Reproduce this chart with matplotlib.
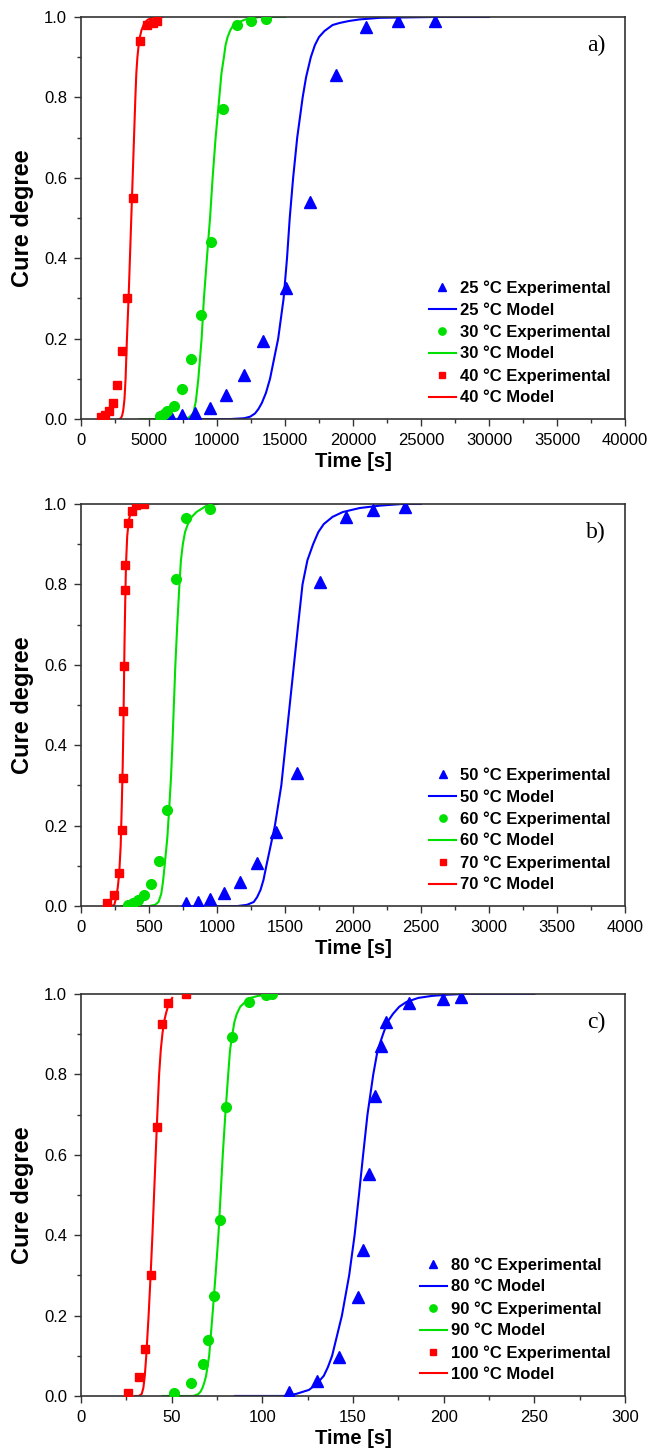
import matplotlib
matplotlib.use("Agg")
import matplotlib.pyplot as plt
from matplotlib.ticker import MultipleLocator

plt.rcParams['font.family'] = ['Liberation Sans', 'DejaVu Sans']

BLUE = '#0000ff'
GREEN = '#00e000'
RED = '#ff0000'

# ---- panel a) : 25, 30, 40 C ----
a25_x = [6610, 7460, 8390, 9480, 10670, 11980, 13420, 15040, 16820, 18780, 20970, 23310, 26020]
a25_y = [0.006, 0.01, 0.015, 0.027, 0.06, 0.11, 0.195, 0.325, 0.54, 0.855, 0.975, 0.99, 0.99]
a30_x = [5830, 6100, 6360, 6870, 7460, 8080, 8800, 9580, 10450, 11450, 12480, 13630]
a30_y = [0.008, 0.012, 0.02, 0.033, 0.075, 0.15, 0.26, 0.44, 0.77, 0.98, 0.99, 0.995]
a40_x = [1450, 1750, 2050, 2350, 2650, 3050, 3400, 3850, 4350, 4850, 5300, 5600]
a40_y = [0.005, 0.01, 0.02, 0.04, 0.085, 0.17, 0.30, 0.55, 0.94, 0.98, 0.985, 0.99]

a25m_x = [7000, 11000, 12000, 12450, 12800, 13050, 13300, 13600, 13900, 14500, 14900, 15150,
          15350, 15600, 15900, 16300, 16550, 16900, 17200, 17500, 17900, 18500, 19000,
          19700, 20500, 22000, 26000, 30000]
a25m_y = [0, 0, 0.002, 0.006, 0.014, 0.025, 0.04, 0.065, 0.10, 0.20, 0.30, 0.40,
          0.50, 0.60, 0.70, 0.80, 0.85, 0.90, 0.93, 0.95, 0.965, 0.98, 0.985,
          0.99, 0.994, 0.998, 1.0, 1.0]
a30m_x = [4350, 6500, 7500, 7900, 8260, 8450, 8630, 8870, 9040, 9260, 9490, 9680, 9900,
          10170, 10330, 10510, 10630, 10780, 10980, 11200, 11500, 11810, 12100, 12500,
          13160, 15000]
a30m_y = [0, 0, 0.001, 0.003, 0.014, 0.045, 0.10, 0.20, 0.30, 0.40, 0.50, 0.60, 0.70,
          0.80, 0.86, 0.90, 0.93, 0.95, 0.967, 0.98, 0.986, 0.99, 0.994, 0.997,
          1.0, 1.0]
a40m_x = [2800, 2880, 2950, 3030, 3100, 3150, 3200, 3280, 3380, 3500, 3600, 3700, 3800,
          3900, 4000, 4070, 4150, 4240, 4330, 4450, 4600, 4750, 4900, 5200, 5560, 6000]
a40m_y = [0, 0.001, 0.003, 0.009, 0.02, 0.034, 0.05, 0.10, 0.20, 0.30, 0.40, 0.50, 0.60,
          0.70, 0.80, 0.86, 0.90, 0.93, 0.95, 0.967, 0.98, 0.988, 0.993, 0.998, 1.0, 1.0]

# ---- panel b) : 50, 60, 70 C ----
b50_x = [774, 861, 952, 1051, 1167, 1292, 1432, 1585, 1757, 1947, 2150, 2384]
b50_y = [0.007, 0.011, 0.017, 0.032, 0.06, 0.106, 0.185, 0.331, 0.805, 0.967, 0.985, 0.992]
b60_x = [343, 381, 418, 462, 512, 571, 630, 699, 774, 949]
b60_y = [0.003, 0.007, 0.015, 0.027, 0.056, 0.111, 0.24, 0.813, 0.966, 0.988]
b70_x = [193, 240, 281, 303, 306, 312, 315, 324, 324, 343, 374, 406, 465]
b70_y = [0.007, 0.027, 0.081, 0.19, 0.318, 0.485, 0.597, 0.785, 0.848, 0.952, 0.982, 0.997, 1.0]

b50m_x = [750, 1150, 1220, 1270, 1295, 1320, 1342, 1363, 1426, 1473, 1504, 1535, 1566,
          1597, 1629, 1665, 1707, 1745, 1785, 1850, 1925, 2050, 2200, 2362, 2500]
b50m_y = [0, 0, 0.003, 0.01, 0.022, 0.04, 0.065, 0.1, 0.2, 0.3, 0.4, 0.5, 0.6,
          0.7, 0.8, 0.86, 0.9, 0.93, 0.95, 0.968, 0.98, 0.99, 0.996, 1.0, 1.0]
b60m_x = [300, 500, 545, 570, 590, 603, 615, 635, 650, 662, 672, 683, 694,
          708, 724, 735, 749, 765, 786, 815, 849, 920, 989, 1005]
b60m_y = [0, 0, 0.003, 0.01, 0.03, 0.06, 0.1, 0.17, 0.25, 0.32, 0.4, 0.5, 0.6,
          0.7, 0.8, 0.86, 0.9, 0.93, 0.95, 0.968, 0.98, 0.995, 1.0, 1.0]
b70m_x = [225, 245, 258, 270, 281, 292, 300, 307, 312, 316, 320, 325,
          331, 340, 352, 370, 395, 410, 430, 490]
b70m_y = [0, 0.003, 0.02, 0.045, 0.08, 0.15, 0.25, 0.35, 0.45, 0.55, 0.65, 0.75,
          0.85, 0.92, 0.96, 0.985, 0.995, 0.998, 1.0, 1.0]

# ---- panel c) : 80, 90, 100 C ----
c80_x = [114.9, 130.4, 142.5, 152.6, 155.4, 158.7, 161.9, 165.2, 168.3, 180.7, 199.6, 209.5]
c80_y = [0.011, 0.036, 0.098, 0.245, 0.363, 0.553, 0.746, 0.87, 0.93, 0.977, 0.988, 0.992]
c90_x = [51.3, 60.8, 67.2, 70.2, 73.5, 76.5, 80.0, 83.1, 92.7, 102.3, 105.1]
c90_y = [0.008, 0.032, 0.08, 0.139, 0.249, 0.438, 0.719, 0.893, 0.98, 0.998, 1.0]
c100_x = [25.7, 32.1, 35.3, 38.6, 41.9, 44.9, 48.2, 57.8]
c100_y = [0.008, 0.048, 0.116, 0.301, 0.668, 0.925, 0.978, 1.0]

c80m_x = [85, 112, 118.6, 125.7, 130.0, 133.9, 136.2, 138.5, 143.9, 147.9, 150.9, 153.3,
          155.6, 158.0, 161.2, 163.6, 166.6, 169.0, 172.0, 175.5, 179.5, 186.0, 193.5,
          202.0, 212.3, 250]
c80m_y = [0, 0, 0.005, 0.015, 0.03, 0.05, 0.072, 0.1, 0.2, 0.3, 0.4, 0.5,
          0.6, 0.7, 0.8, 0.86, 0.9, 0.93, 0.95, 0.968, 0.98, 0.99, 0.995,
          0.998, 1.0, 1.0]
c90m_x = [45, 62, 64.8, 66.0, 67.0, 68.0, 69.0, 70.7, 72.5, 74.2, 75.8, 77.0, 78.2, 79.6,
          81.2, 82.2, 83.5, 84.6, 85.9, 87.8, 90.6, 93.5, 97.6, 107]
c90m_y = [0, 0, 0.005, 0.011, 0.02, 0.033, 0.05, 0.1, 0.2, 0.3, 0.4, 0.5, 0.6, 0.7,
          0.8, 0.86, 0.9, 0.93, 0.95, 0.968, 0.98, 0.99, 0.995, 1.0]
c100m_x = [30, 32, 33.5, 34.4, 35.2, 36, 37.3, 38.4, 39.4, 40.3, 41.2, 42.1,
           43.1, 44.0, 44.9, 45.8, 46.8, 47.9, 49.1, 50.3]
c100m_y = [0, 0, 0.005, 0.02, 0.05, 0.1, 0.2, 0.3, 0.4, 0.5, 0.6, 0.7,
           0.8, 0.86, 0.9, 0.93, 0.95, 0.968, 0.98, 0.99]

panels = [
    dict(temps=['25', '30', '40'], exp=[(a25_x, a25_y), (a30_x, a30_y), (a40_x, a40_y)],
         mod=[(a25m_x, a25m_y), (a30m_x, a30m_y), (a40m_x, a40m_y)],
         xmax=40000, xstep=5000, tag='a)'),
    dict(temps=['50', '60', '70'], exp=[(b50_x, b50_y), (b60_x, b60_y), (b70_x, b70_y)],
         mod=[(b50m_x, b50m_y), (b60m_x, b60m_y), (b70m_x, b70m_y)],
         xmax=4000, xstep=500, tag='b)'),
    dict(temps=['80', '90', '100'], exp=[(c80_x, c80_y), (c90_x, c90_y), (c100_x, c100_y)],
         mod=[(c80m_x, c80m_y), (c90m_x, c90m_y), (c100m_x, c100m_y)],
         xmax=300, xstep=50, tag='c)'),
]

colors = [BLUE, GREEN, RED]
markers = [('^', 8), ('o', 7), ('s', 6)]
bottoms = [0.7114, 0.376, 0.0386]

fig = plt.figure(figsize=(6.61, 14.52), dpi=100)

for p, bot in zip(panels, bottoms):
    ax = fig.add_axes([0.1225, bot, 0.823, 0.2769])
    for i in range(3):
        ex, ey = p['exp'][i]
        mx, my = p['mod'][i]
        ax.plot(ex, ey, linestyle='none', marker=markers[i][0], markersize=markers[i][1],
                color=colors[i], label=p['temps'][i] + ' °C Experimental', zorder=3)
        ax.plot(mx, my, color=colors[i], linewidth=1.5,
                label=p['temps'][i] + ' °C Model', zorder=2)

    ax.set_xlim(0, p['xmax'])
    ax.set_ylim(0, 1.0)
    ax.xaxis.set_major_locator(MultipleLocator(p['xstep']))
    ax.xaxis.set_minor_locator(MultipleLocator(p['xstep'] / 2))
    ax.yaxis.set_major_locator(MultipleLocator(0.2))
    ax.yaxis.set_minor_locator(MultipleLocator(0.1))
    ax.tick_params(which='both', direction='out', top=False, right=False,
                   color='#333333', width=1.0)
    ax.tick_params(which='major', length=5, labelsize=12, pad=5)
    ax.tick_params(which='minor', length=3)
    for s in ax.spines.values():
        s.set_color('#333333')
        s.set_linewidth(1.2)

    ax.set_xlabel('Time [s]', fontsize=14.5, fontweight='bold', labelpad=3)
    ax.set_ylabel('Cure degree', fontsize=17, fontweight='bold', labelpad=7)

    ax.text(0.947, 0.93, p['tag'], transform=ax.transAxes, ha='center', va='center',
            fontsize=17, family='Liberation Serif')

    ax.legend(loc='lower right', bbox_to_anchor=(0.995, 0.005), frameon=False,
              prop={'weight': 'bold', 'size': 12}, handlelength=1.6,
              handletextpad=0.25, labelspacing=0.4, markerscale=0.75,
              borderpad=0.2)

fig.savefig('out.png', dpi=100)
